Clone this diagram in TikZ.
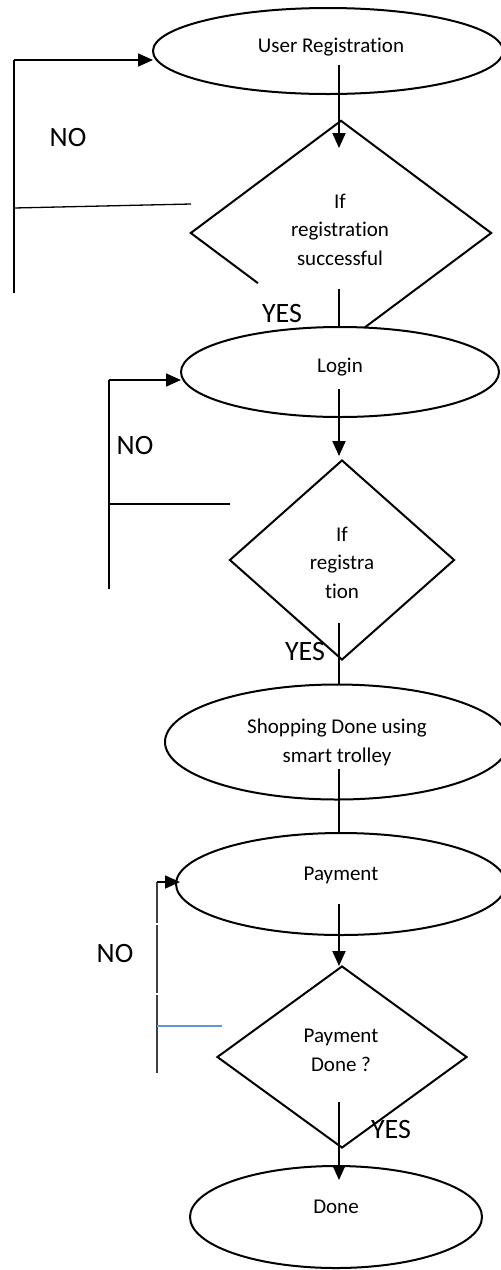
\documentclass[tikz,border=0pt]{standalone}
\usepackage{fontspec}
\setmainfont[Ligatures=NoCommon]{Carlito}
\usetikzlibrary{shapes.geometric,arrows.meta,calc}
\definecolor{wordblue}{HTML}{5B9BD5}
\definecolor{loopgray}{HTML}{404040}
\begin{document}
\begin{tikzpicture}[x=1pt,y=-1pt,
  oval/.style={draw=black,line width=2pt,ellipse,inner sep=0pt,fill=white},
  dia/.style={draw=black,line width=2pt,diamond,inner sep=0pt},
  diaghost/.style={draw=none,diamond,inner sep=0pt},
  txt/.style={font=\fontsize{21}{28.5}\selectfont,align=center,anchor=base,inner sep=0pt},
  lbl/.style={font=\fontsize{28}{30}\selectfont,anchor=base,inner sep=0pt},
  flow/.style={line width=2pt,-{Triangle[length=15pt,width=13pt]}},
  plain/.style={line width=2pt},
  back/.style={line width=1.3pt},
  backarrow/.style={line width=1.7pt,-{Triangle[length=15pt,width=13pt]}},
]
\path[use as bounding box] (0,0) rectangle (501,1270);
\clip (0,0) rectangle (501,1270);

% decision shapes
\node[diaghost, minimum width=300pt, minimum height=224pt] (d1) at (341,233) {};
\draw[line width=2pt, line join=miter]
  ($(d1.west)!0.447!(d1.south)$) -- (d1.west) -- (d1.north) -- (d1.east) -- (d1.south);
\node[dia, minimum width=225pt, minimum height=200pt] (d2) at (342,560) {};
\node[dia, minimum width=250pt, minimum height=182pt] (d3) at (342,1057) {};

% process ellipses
\node[oval, minimum width=350pt, minimum height=86pt] (reg) at (328,51) {};
\node[oval, minimum width=318pt, minimum height=90pt] (login) at (340,372) {};
\node[oval, minimum width=344pt, minimum height=115pt] (shop) at (337,742) {};
\node[oval, minimum width=330pt, minimum height=102pt] (pay) at (341,884) {};
\node[oval, minimum width=292pt, minimum height=102pt] (done) at (336,1217) {};

% texts (base anchor = baseline of last line)
\node[txt] (treg) at (331,52) {User Registration};
\node[txt] (td1) at (340,265) {If\\registration\\successful};
\node[txt] (tlogin) at (340,372) {Login};
\node[txt] (td2) at (342,598) {If\\registra\\tion};
\node[txt] (tshop) at (337,762) {Shopping Done using\\smart trolley};
\node[txt] (tpay) at (341,880) {Payment};
\node[txt] (td3) at (341,1071) {Payment\\Done ?};
\node[txt] (tdone) at (336,1213) {Done};

\node[lbl] (no1) at (68,146) {NO};
\node[lbl] (yes1) at (282,322) {YES};
\node[lbl] (no2) at (135,454) {NO};
\node[lbl] (yes2) at (305,660) {YES};
\node[lbl] (no3) at (115,962) {NO};
\node[lbl] (yes3) at (391,1138) {YES};

% coordinates for connectors
\coordinate (a1s) at (339,65);   \coordinate (a1e) at (339,148);
\coordinate (l1s) at (339,289);  \coordinate (l1e) at (339,327);
\coordinate (a2s) at (339,389);  \coordinate (a2e) at (339,456);
\coordinate (l2s) at (339,623);  \coordinate (l2e) at (339,685);
\coordinate (l3s) at (339,769);  \coordinate (l3e) at (339,833);
\coordinate (a3s) at (339,904);  \coordinate (a3e) at (339,966);
\coordinate (a4s) at (339,1102); \coordinate (a4e) at (339,1180);

\draw[flow] (a1s) -- (a1e);
\draw[plain] (l1s) -- (l1e);
\draw[flow] (a2s) -- (a2e);
\draw[plain] (l2s) -- (l2e);
\draw[plain] (l3s) -- (l3e);
\draw[flow] (a3s) -- (a3e);
\draw[flow] (a4s) -- (a4e);

% loop 1
\coordinate (n1b) at (14,293); \coordinate (n1c) at (14,60); \coordinate (n1t) at (153,60);
\coordinate (n1h) at (14,208); \coordinate (n1r) at (191,204);
\draw[back] (n1b) -- (n1c);
\draw[backarrow] (n1c) -- (n1t);
\draw[back] (n1h) -- (n1r);

% loop 2
\coordinate (n2b) at (109,589); \coordinate (n2c) at (109,380); \coordinate (n2t) at (181,380);
\coordinate (n2h) at (109,504); \coordinate (n2r) at (230,504);
\draw[back] (n2b) -- (n2c);
\draw[backarrow] (n2c) -- (n2t);
\draw[back] (n2h) -- (n2r);

% loop 3
\coordinate (n3b) at (157,1073); \coordinate (n3g1) at (157,995); \coordinate (n3g2) at (157,993);
\coordinate (n3g3) at (157,925); \coordinate (n3g4) at (157,923); \coordinate (n3c) at (157,882);
\coordinate (n3t) at (180,882);
\coordinate (n3h) at (157,1026); \coordinate (n3r) at (222,1026);
\draw[back, loopgray] (n3b) -- (n3g1);
\draw[back, loopgray] (n3g2) -- (n3g3);
\draw[back, loopgray] (n3g4) -- (n3c);
\draw[backarrow] (n3c) -- (n3t);
\draw[back, wordblue] (n3h) -- (n3r);
\end{tikzpicture}
\end{document}
